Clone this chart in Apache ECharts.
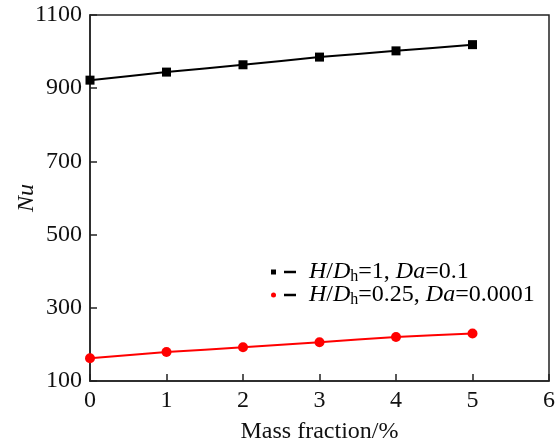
<!DOCTYPE html>
<html>
<head>
<meta charset="utf-8">
<script src="https://cdn.jsdelivr.net/npm/echarts@6/dist/echarts.min.js"></script>
<style>
  html, body { margin: 0; padding: 0; background: #fff; }
  #chart { width: 557px; height: 441px; }
</style>
</head>
<body>
<div id="chart"></div>
<script>
// Mass fraction (%) on the x axis
const massFraction = [0, 1, 2, 3, 4, 5];
// Nusselt number for the two configurations
const nuCase1 = [922, 944, 964, 985, 1002, 1019]; // H/Dh = 1, Da = 0.1
const nuCase2 = [162, 179, 192, 206, 220, 230];   // H/Dh = 0.25, Da = 0.0001
const yTicks = [100, 300, 500, 700, 900, 1100];
const xTicks = [0, 1, 2, 3, 4, 5, 6];
const seriesNames = ['case1', 'case2'];

const serif = '"Liberation Serif", "Times New Roman", serif';
const chart = echarts.init(document.getElementById('chart'));

// Legend label pieces: a short black dash drawn as a filled box, then the label
const LH = 20;
const richLegend = {
  a: { width: 3, lineHeight: LH },
  d: { width: 12, height: 2.5, backgroundColor: '#000', verticalAlign: 'middle' },
  b: { width: 13, lineHeight: LH },
  n: { fontFamily: serif, fontSize: 24, color: '#000', lineHeight: LH },
  i: { fontFamily: serif, fontSize: 24, fontStyle: 'italic', color: '#000', lineHeight: LH },
  s: { fontFamily: serif, fontSize: 16, color: '#000', lineHeight: 10, padding: [10, 0, 0, 0] }
};

chart.setOption({
  animation: false,
  backgroundColor: '#fff',
  grid: {
    left: 90, right: 8, top: 15, bottom: 60,
    outerBoundsMode: 'none', containLabel: false,
    show: true, borderColor: '#222', borderWidth: 1.5
  },
  xAxis: {
    type: 'value',
    min: xTicks[0], max: xTicks[xTicks.length - 1], interval: 1,
    name: 'Mass fraction/%',
    nameLocation: 'middle', nameGap: 39,
    nameTextStyle: { fontFamily: serif, fontSize: 24, color: '#111' },
    axisLine: { lineStyle: { color: '#222', width: 1.5 } },
    axisTick: { inside: true, length: 7, lineStyle: { color: '#222', width: 1.5 } },
    axisLabel: { fontFamily: serif, fontSize: 24, color: '#111', margin: 8 },
    splitLine: { show: false }
  },
  yAxis: {
    type: 'value',
    min: yTicks[0], max: yTicks[yTicks.length - 1], interval: 200,
    name: 'Nu',
    nameLocation: 'middle', nameGap: 51, nameMoveOverlap: false,
    nameTextStyle: { fontFamily: serif, fontSize: 24, fontStyle: 'italic', color: '#111' },
    axisLine: { lineStyle: { color: '#222', width: 1.5 } },
    axisTick: { inside: true, length: 7, lineStyle: { color: '#222', width: 1.5 } },
    axisLabel: { fontFamily: serif, fontSize: 24, color: '#111', margin: 8, formatter: v => String(v) },
    splitLine: { show: false }
  },
  legend: {
    orient: 'vertical',
    left: 271, top: 259,
    padding: 0,
    itemGap: -3,
    itemWidth: 5, itemHeight: 5,
    data: [
      { name: seriesNames[0], icon: 'rect', itemStyle: { color: '#000' } },
      { name: seriesNames[1], icon: 'circle', itemStyle: { color: '#f00' } }
    ],
    formatter: function (name) {
      if (name === seriesNames[0]) {
        return '{a| }{d| }{b| }{i|H}{n|/}{i|D}{s|h}{n|=1, }{i|Da}{n|=0.1}';
      }
      return '{a| }{d| }{b| }{i|H}{n|/}{i|D}{s|h}{n|=0.25, }{i|Da}{n|=0.0001}';
    },
    textStyle: { rich: richLegend }
  },
  series: [
    {
      name: seriesNames[0],
      type: 'line',
      data: massFraction.map((x, k) => [x, nuCase1[k]]),
      symbol: 'rect', symbolSize: 9,
      smooth: 0.2,
      lineStyle: { color: '#000', width: 2 },
      itemStyle: { color: '#000' }
    },
    {
      name: seriesNames[1],
      type: 'line',
      data: massFraction.map((x, k) => [x, nuCase2[k]]),
      symbol: 'circle', symbolSize: 10,
      smooth: 0.2,
      lineStyle: { color: '#f00', width: 2 },
      itemStyle: { color: '#f00' }
    }
  ]
});
</script>
</body>
</html>
